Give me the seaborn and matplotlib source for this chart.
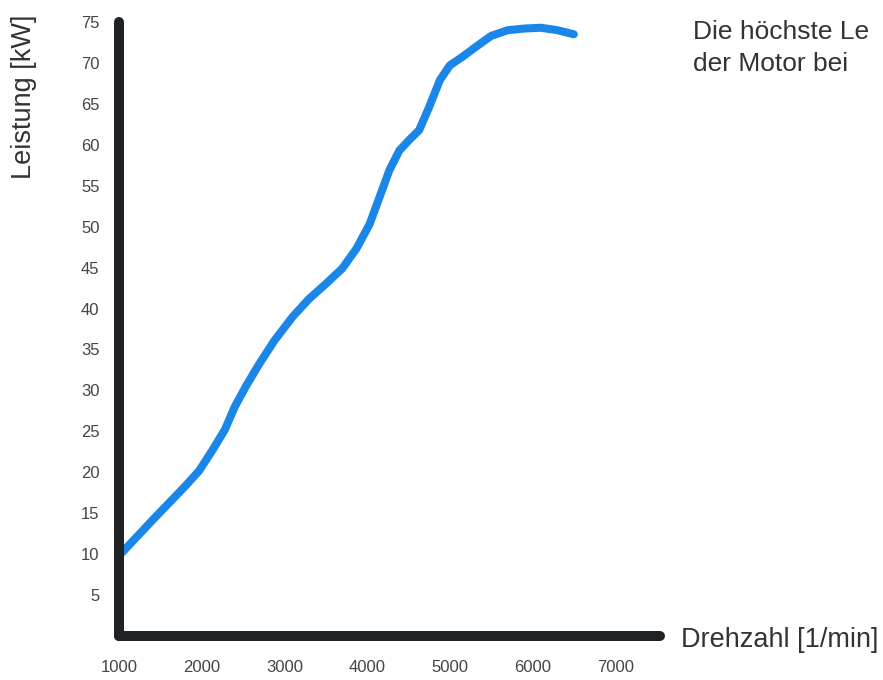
import matplotlib
matplotlib.use("Agg")
import matplotlib.pyplot as plt
import seaborn as sns
import pandas as pd

# Data
rpm = [1000, 1400, 1800, 1970, 2130, 2280, 2400, 2540, 2700, 2880, 3100, 3300,
       3500, 3700, 3870, 4030, 4150, 4270, 4390, 4510, 4630, 4750, 4880, 5000,
       5160, 5320, 5500, 5700, 5900, 6100, 6300, 6500]
kw = [9.8, 14.1, 18.3, 20.2, 22.7, 25.2, 28.0, 30.6, 33.3, 36.1, 39.0, 41.2,
      43.0, 44.9, 47.3, 50.3, 53.6, 56.9, 59.3, 60.6, 61.8, 64.6, 67.9, 69.7,
      70.8, 72.0, 73.3, 74.0, 74.2, 74.3, 74.0, 73.5]
x_ticks = [1000, 2000, 3000, 4000, 5000, 6000, 7000]
y_ticks = [5, 10, 15, 20, 25, 30, 35, 40, 45, 50, 55, 60, 65, 70, 75]
note_lines = ["Die höchste Le", "der Motor bei"]

df = pd.DataFrame({"Drehzahl": rpm, "Leistung": kw})

sns.set_theme(style="white")
plt.rcParams["font.family"] = ["Liberation Sans", "DejaVu Sans"]

fig = plt.figure(figsize=(8.83, 6.8), dpi=100)
ax = fig.add_axes([119 / 883, 44 / 680, 541 / 883, 614 / 680])

sns.lineplot(data=df, x="Drehzahl", y="Leistung", ax=ax, color="#1a87e8",
             linewidth=5.8, sort=False)
for ln in ax.lines:
    ln.set_solid_capstyle("round")
    ln.set_solid_joinstyle("round")
    ln.set_clip_on(False)

ax.set_xlim(1000, 1000 + 541 / 82.7 * 1000)
ax.set_ylim(0, 75)
ax.set_xticks(x_ticks)
ax.set_yticks(y_ticks)
ax.tick_params(axis="both", length=0, labelsize=12, labelcolor="#444444")
ax.tick_params(axis="x", pad=17)
ax.tick_params(axis="y", pad=14)

for side in ["top", "right"]:
    ax.spines[side].set_visible(False)
for side in ["left", "bottom"]:
    sp = ax.spines[side]
    sp.set_linewidth(7.2)
    sp.set_color("#1f2326")
    sp.set_capstyle("round")
    sp.set_zorder(3)

ax.set_ylabel("Leistung [kW]", fontsize=19.5, color="#333333")
ax.yaxis.set_label_coords((37 - 119) / 541, (636 - 97) / 614)
ax.set_xlabel("Drehzahl [1/min]", fontsize=19.5, color="#333333")
ax.xaxis.label.set_ha("left")
ax.xaxis.label.set_va("center")
ax.xaxis.set_label_coords((681 - 119) / 541, -4 / 614)

fig.text(693 / 883, 1 - 39 / 680, note_lines[0], fontsize=19, color="#333333",
         ha="left", va="baseline")
fig.text(693 / 883, 1 - 71 / 680, note_lines[1], fontsize=19, color="#333333",
         ha="left", va="baseline")

fig.savefig("out.png", dpi=100)
